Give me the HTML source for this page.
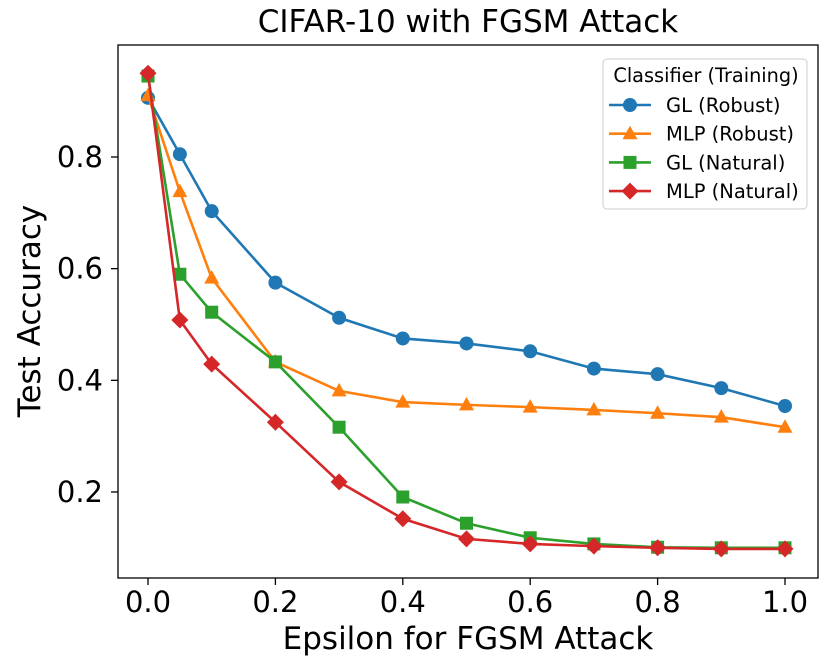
<!DOCTYPE html>
<html><head><meta charset="utf-8"><style>
body{margin:0;background:#fff;}
svg{display:block;font-family:"DejaVu Sans","Liberation Sans",sans-serif;}
</style></head><body>
<svg id="chart" width="831" height="669"></svg>
<script>
const xValues=[0,0.05,0.1,0.2,0.3,0.4,0.5,0.6,0.7,0.8,0.9,1.0];
const glRobust=[0.906,0.805,0.703,0.575,0.512,0.475,0.466,0.452,0.421,0.411,0.386,0.354];
const mlpRobust=[0.91,0.738,0.583,0.433,0.381,0.361,0.356,0.352,0.347,0.341,0.334,0.316];
const glNatural=[0.945,0.59,0.522,0.433,0.316,0.191,0.144,0.118,0.107,0.101,0.1,0.1];
const mlpNatural=[0.95,0.508,0.429,0.325,0.218,0.152,0.116,0.107,0.103,0.1,0.098,0.098];
const xTicks=[0,0.2,0.4,0.6,0.8,1.0];
const yTicks=[0.2,0.4,0.6,0.8];
const seriesNames=["GL (Robust)","MLP (Robust)","GL (Natural)","MLP (Natural)"];
const NS="http://www.w3.org/2000/svg";
const svg=document.getElementById('chart');
const X=v=>148+v*637, Y=v=>157+(0.8-v)*558.3;
function el(t,a,p){const e=document.createElementNS(NS,t);for(const k in a)e.setAttribute(k,a[k]);(p||svg).appendChild(e);return e;}
function txt(s,a){const e=el('text',a);e.textContent=s;return e;}
const title=txt("CIFAR-10 with FGSM Attack",{x:468,y:32,"text-anchor":"middle","font-size":31});

const frame=el('rect',{x:118,y:45,width:700,height:533,fill:"none",stroke:"#000","stroke-width":1.3});

xTicks.forEach(v=>{el('line',{x1:X(v),x2:X(v),y1:578,y2:585,stroke:"#000","stroke-width":1.3});
 const t=txt(v.toFixed(1),{x:X(v),y:612,"text-anchor":"middle","font-size":29});
 });
yTicks.forEach(v=>{el('line',{x1:111,x2:118,y1:Y(v),y2:Y(v),stroke:"#000","stroke-width":1.3});
 const t=txt(v.toFixed(1),{x:103,y:Y(v)+10,"text-anchor":"end","font-size":29});
 });
const xt=txt("Epsilon for FGSM Attack",{x:468,y:649,"text-anchor":"middle","font-size":31});

const yt=txt("Test Accuracy",{x:0,y:0,"text-anchor":"middle","font-size":31,transform:"translate(40,311) rotate(-90)"});

const colors=["#1f77b4","#ff7f0e","#2ca02c","#d62728"];
const shapes=["circle","triangle","square","diamond"];
function marker(g,s,cx,cy,c){
 if(s=="circle")el('circle',{cx,cy,r:7,fill:c},g);
 else if(s=="triangle")el('polygon',{points:`${cx},${cy-8} ${cx-7.5},${cy+5.5} ${cx+7.5},${cy+5.5}`,fill:c},g);
 else if(s=="square")el('rect',{x:cx-6.5,y:cy-6.5,width:13,height:13,fill:c},g);
 else el('polygon',{points:`${cx},${cy-8.5} ${cx+8.5},${cy} ${cx},${cy+8.5} ${cx-8.5},${cy}`,fill:c},g);
}
[glRobust,mlpRobust,glNatural,mlpNatural].forEach((d,i)=>{
 const g=el('g',{});
 
 
 el('polyline',{points:d.map((v,j)=>X(xValues[j])+","+Y(v)).join(" "),fill:"none",stroke:colors[i],"stroke-width":2.6},g);
 d.forEach((v,j)=>marker(g,shapes[i],X(xValues[j]),Y(v),colors[i]));
});
const lg=el('g',{});
el('rect',{x:603,y:59,width:204,height:150,rx:4,fill:"#fff",stroke:"#ccc"},lg);
const lt=el('text',{x:706,y:82,"text-anchor":"middle","font-size":19.3},lg);lt.textContent="Classifier (Training)";
seriesNames.forEach((n,i)=>{
 const yy=105+i*28.7;
 const e=el('g',{},lg);
 el('line',{x1:609,x2:651,y1:yy,y2:yy,stroke:colors[i],"stroke-width":2.6},e);
 marker(e,shapes[i],630,yy,colors[i]);
 const t=el('text',{x:666,y:yy+7,"font-size":19.5},e);t.textContent=n;
});
</script>
</body></html>
